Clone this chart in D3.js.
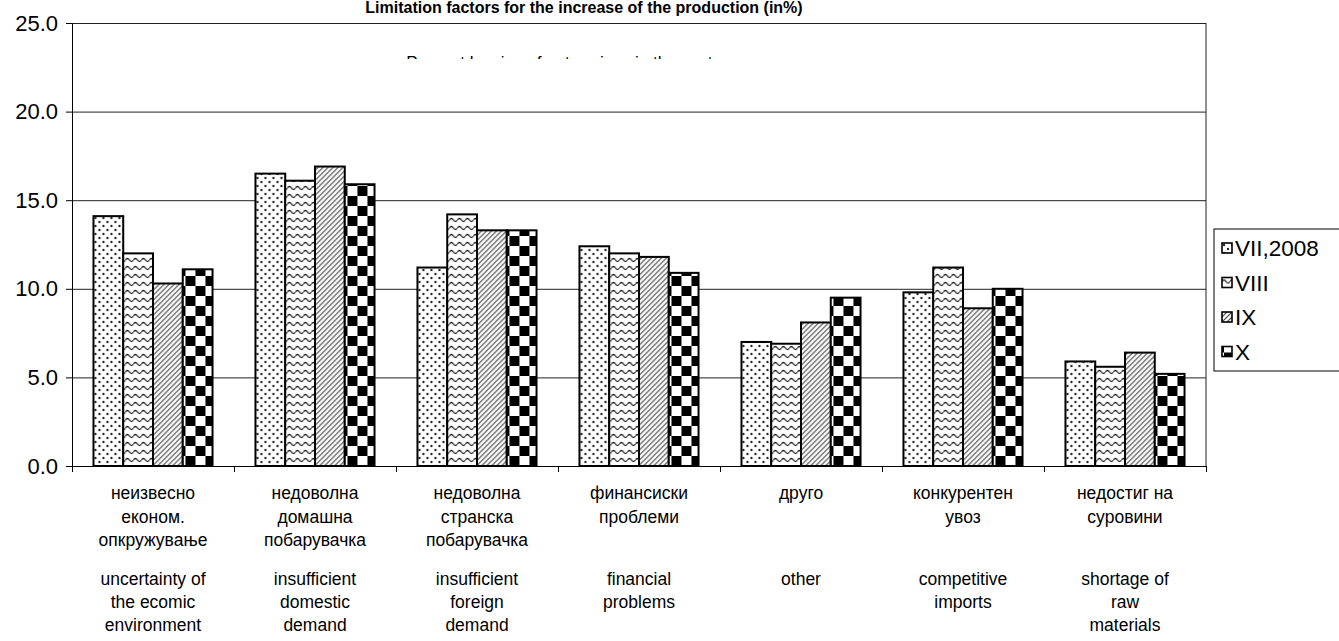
<!DOCTYPE html>
<html>
<head>
<meta charset="utf-8">
<script src="https://cdn.jsdelivr.net/npm/d3@7"></script>
<style>
  body { margin: 0; background: #fff; }
  svg { display: block; font-family: "Liberation Sans", Arial, sans-serif; }
</style>
</head>
<body>
<svg id="chart" width="1339" height="641"></svg>
<script>
const categoriesMk = [
  ["неизвесно", "економ.", "опкружување"],
  ["недоволна", "домашна", "побарувачка"],
  ["недоволна", "странска", "побарувачка"],
  ["финансиски", "проблеми"],
  ["друго"],
  ["конкурентен", "увоз"],
  ["недостиг на", "суровини"]
];
const categoriesEn = [
  ["uncertainty of", "the ecomic", "environment"],
  ["insufficient", "domestic", "demand"],
  ["insufficient", "foreign", "demand"],
  ["financial", "problems"],
  ["other"],
  ["competitive", "imports"],
  ["shortage of", "raw", "materials"]
];
const seriesNames = ["VII,2008", "VIII", "IX", "X"];
const valuesVII  = [14.1, 16.5, 11.2, 12.4, 7.0, 9.8, 5.9];
const valuesVIII = [12.0, 16.1, 14.2, 12.0, 6.9, 11.2, 5.6];
const valuesIX   = [10.3, 16.9, 13.3, 11.8, 8.1, 8.9, 6.4];
const valuesX    = [11.1, 15.9, 13.3, 10.9, 9.5, 10.0, 5.2];
const yTicks = [0, 5, 10, 15, 20, 25];

const title = "Limitation  factors for the increase of the production (in%)";
const subtitle = "Percent by size of enterprises in the sector";

const allValues = [valuesVII, valuesVIII, valuesIX, valuesX];
const rows = categoriesEn.map((c, i) => ({
  idx: i,
  vals: seriesNames.map((s, j) => ({ series: j, value: allValues[j][i] }))
}));

const svg = d3.select("#chart");
const mLeft = 72, mRight = 1206, mTop = 23, mBottom = 466;

// patterns
const defs = svg.append("defs");
const pDots = defs.append("pattern").attr("id", "pat0").attr("patternUnits", "userSpaceOnUse")
  .attr("width", 8).attr("height", 8);
pDots.append("rect").attr("width", 8).attr("height", 8).attr("fill", "#fff");
pDots.append("circle").attr("cx", 2).attr("cy", 2).attr("r", 1.2).attr("fill", "#222");
pDots.append("circle").attr("cx", 6).attr("cy", 6).attr("r", 1.2).attr("fill", "#222");

const pWave = defs.append("pattern").attr("id", "pat1").attr("patternUnits", "userSpaceOnUse")
  .attr("width", 8).attr("height", 8);
pWave.append("rect").attr("width", 8).attr("height", 8).attr("fill", "#fff");
pWave.append("path").attr("d", "M0 4 Q2 1 4 4 T8 4").attr("fill", "none")
  .attr("stroke", "#222").attr("stroke-width", 1.3);

const pDiag = defs.append("pattern").attr("id", "pat2").attr("patternUnits", "userSpaceOnUse")
  .attr("width", 5).attr("height", 5);
pDiag.append("rect").attr("width", 5).attr("height", 5).attr("fill", "#fff");
pDiag.append("path").attr("d", "M-1 6 L6 -1 M-1 1 L1 -1 M4 6 L6 4").attr("stroke", "#444").attr("stroke-width", 1.1);

const pCheck = defs.append("pattern").attr("id", "pat3").attr("patternUnits", "userSpaceOnUse")
  .attr("width", 20).attr("height", 20).attr("x", 2).attr("y", 6);
pCheck.append("rect").attr("width", 20).attr("height", 20).attr("fill", "#fff");
pCheck.append("rect").attr("width", 10).attr("height", 10).attr("fill", "#000");
pCheck.append("rect").attr("x", 10).attr("y", 10).attr("width", 10).attr("height", 10).attr("fill", "#000");

// title
svg.append("text").attr("x", 584).attr("y", 13).attr("text-anchor", "middle")
  .attr("font-weight", "bold").attr("font-size", 16).text(title);

const x0 = d3.scaleBand().domain(d3.range(categoriesEn.length)).range([mLeft, mRight])
  .paddingInner(0.265).paddingOuter(0.1325);
const x1 = d3.scaleBand().domain(d3.range(seriesNames.length)).range([0, x0.bandwidth()]);
const y = d3.scaleLinear().domain([0, 25]).range([mBottom, mTop]);
const xEdge = d3.scaleLinear().domain([0, categoriesEn.length]).range([mLeft, mRight]);

// gridlines
svg.append("g").attr("transform", `translate(${mLeft},0)`)
  .call(d3.axisLeft(y).tickValues(yTicks.filter(d => d > 0)).tickSize(-(mRight - mLeft)).tickFormat(""))
  .call(g => g.select(".domain").remove())
  .call(g => g.selectAll("line").attr("stroke", "#222"));

// subtitle, mostly hidden behind the plot area in the original
const clip = defs.append("clipPath").attr("id", "subclip");
clip.append("rect").attr("x", mLeft).attr("y", 55).attr("width", mRight - mLeft).attr("height", 4);
svg.append("text").attr("clip-path", "url(#subclip)").attr("x", 567).attr("y", 68)
  .attr("text-anchor", "middle").attr("font-size", 17).text(subtitle);

// right border
svg.append("line").attr("x1", mRight).attr("x2", mRight).attr("y1", mTop).attr("y2", mBottom)
  .attr("stroke", "#222");

// bars
const groups = svg.append("g").selectAll("g").data(rows).join("g")
  .attr("transform", d => `translate(${x0(d.idx)},0)`);
groups.selectAll("rect").data(d => d.vals).join("rect")
  .attr("x", d => x1(d.series))
  .attr("y", d => y(d.value))
  .attr("width", x1.bandwidth())
  .attr("height", d => y(0) - y(d.value))
  .attr("fill", d => `url(#pat${d.series})`)
  .attr("stroke", "#000").attr("stroke-width", 2);

// y axis
svg.append("g").attr("transform", `translate(${mLeft},0)`)
  .call(d3.axisLeft(y).tickValues(yTicks).tickFormat(d3.format(".1f")).tickSize(6).tickPadding(8))
  .call(g => g.selectAll("text").attr("font-size", 22).attr("fill", "#000").attr("font-family", "Liberation Sans, Arial"))
  .call(g => g.selectAll("line,path").attr("stroke", "#000"));

// x axis (boundary ticks)
svg.append("g").attr("transform", `translate(0,${mBottom})`)
  .call(d3.axisBottom(xEdge).tickValues(d3.range(categoriesEn.length + 1)).tickSize(6).tickSizeOuter(0).tickFormat(""))
  .call(g => g.selectAll("line,path").attr("stroke", "#000"));

// category labels
const lab = svg.append("g").selectAll("g").data(rows).join("g")
  .attr("transform", d => `translate(${x0(d.idx) + x0.bandwidth() / 2},0)`);
lab.append("text").attr("text-anchor", "middle").attr("font-size", 17.5)
  .selectAll("tspan").data(d => categoriesMk[d.idx]).join("tspan")
  .attr("x", 0).attr("y", (d, i) => 499 + i * 23.5).text(d => d);
lab.append("text").attr("text-anchor", "middle").attr("font-size", 17.5)
  .selectAll("tspan").data(d => categoriesEn[d.idx]).join("tspan")
  .attr("x", 0).attr("y", (d, i) => 585 + i * 23).text(d => d);

// legend
const lg = svg.append("g");
lg.append("rect").attr("x", 1214).attr("y", 229).attr("width", 140).attr("height", 142)
  .attr("fill", "#fff").attr("stroke", "#000");
const li = lg.selectAll("g").data(seriesNames).join("g")
  .attr("transform", (d, i) => `translate(1222,${243 + i * 34.5})`);
li.append("rect").attr("width", 10).attr("height", 10)
  .attr("fill", (d, i) => `url(#pat${i})`).attr("stroke", "#000").attr("stroke-width", 1.6);
li.append("text").attr("x", 13).attr("y", 13).attr("font-size", 22.5).text(d => d);
</script>
</body>
</html>
